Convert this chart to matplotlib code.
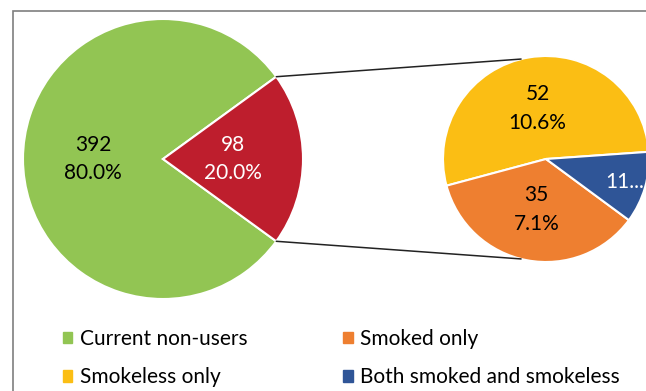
import matplotlib
matplotlib.use('Agg')
import matplotlib.pyplot as plt
from matplotlib.patches import Patch, Rectangle, ConnectionPatch
import numpy as np

plt.rcParams['font.family'] = ['Lato', 'DejaVu Sans']

# data
main_labels = ['Current non-users', 'Current users']
main_counts = [392, 98]
main_colors = ['#92C553', '#BE1E2D']

user_labels = ['Smokeless only', 'Smoked only', 'Both smoked and smokeless']
user_counts = [52, 35, 11]
user_colors = ['#FBBE14', '#EE7F30', '#2F5597']

total = sum(main_counts)

W, H = 646, 391
fig = plt.figure(figsize=(W / 100, H / 100), dpi=100)


def px_box(x0, y0, x1, y1):
    # pixel box (top-left origin) -> figure fraction rect
    return [x0 / W, 1 - y1 / H, (x1 - x0) / W, (y1 - y0) / H]


ax1 = fig.add_axes(px_box(23, 19, 303, 299))
ax2 = fig.add_axes(px_box(443, 56, 649, 262))

wedge_kw = dict(edgecolor='white', linewidth=1.5)

w1, _, at1 = ax1.pie(main_counts, colors=main_colors, startangle=36,
                     autopct='%1.1f%%', pctdistance=0.5, wedgeprops=wedge_kw)
w2, _, at2 = ax2.pie(user_counts, colors=user_colors, startangle=4,
                     autopct='%1.1f%%', pctdistance=0.5, wedgeprops=wedge_kw)

for ax in (ax1, ax2):
    ax.set_xlim(-1, 1)
    ax.set_ylim(-1, 1)

for t, n in zip(at1, main_counts):
    t.set_text(f'{n}\n{n / total * 100:.1f}%')
for t, n in zip(at2, user_counts):
    t.set_text(f'{n}\n{n / total * 100:.1f}%')

text_colors = ['black', 'white']
for t, c in zip(at1, text_colors):
    t.set_color(c)
for t in list(at1) + list(at2):
    t.set_fontsize(15)
    t.set_linespacing(1.55)

# blue slice label is truncated in the original
blue = w2[2]
mid = np.deg2rad((blue.theta1 + blue.theta2) / 2)
at2[2].set_text('11...')
at2[2].set_color('white')
at2[2].set_position((0.8 * np.cos(mid), 0.8 * np.sin(mid)))

# connector lines
red = w1[1]
for a1, a2 in ((red.theta2, 104), (red.theta1, -104)):
    ra, rb = np.deg2rad(a1), np.deg2rad(a2)
    con = ConnectionPatch(xyA=(np.cos(ra), np.sin(ra)), coordsA=ax1.transData,
                          xyB=(np.cos(rb), np.sin(rb)), coordsB=ax2.transData,
                          color='#222222', linewidth=1.1)
    fig.add_artist(con)

# legend (column-wise fill: non-users, smokeless | smoked, both)
handles = [Patch(color=c) for c in main_colors[:1] + user_colors]
names = main_labels[:1] + user_labels
fig.legend(handles, names,
           loc='upper left', bbox_to_anchor=(63 / W, 1 - 329 / H),
           ncol=2, frameon=False, fontsize=15, borderpad=0, borderaxespad=0,
           handlelength=0.45, handleheight=0.45, handletextpad=0.35,
           columnspacing=4.6, labelspacing=0.88)

# outer frame
fig.add_artist(Rectangle((13.5 / W, -0.1), 1.2, 1.1 - 10.5 / H,
                         transform=fig.transFigure, fill=False,
                         edgecolor='#7f7f7f', linewidth=1.2))

fig.savefig('out.png', dpi=100, facecolor='white')
